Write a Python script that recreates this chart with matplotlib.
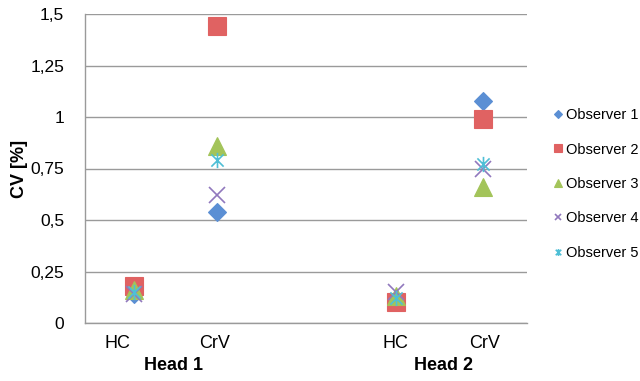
import numpy as np
import matplotlib
matplotlib.use('Agg')
import matplotlib.pyplot as plt
from matplotlib.path import Path

plt.rcParams['font.family'] = ['Liberation Sans', 'DejaVu Sans']

# 数据: 各观察者在四个分类上的 CV 值
categories = ['HC', 'CrV', 'HC', 'CrV']
groups = ['Head 1', 'Head 2']
observers = ['Observer 1', 'Observer 2', 'Observer 3', 'Observer 4', 'Observer 5']
obs1 = [0.14, 0.54, 0.11, 1.08]
obs2 = [0.18, 1.44, 0.10, 0.99]
obs3 = [0.16, 0.86, 0.13, 0.66]
obs4 = [0.14, 0.62, 0.15, 0.75]
obs5 = [0.15, 0.79, 0.12, 0.77]
yticks = [0, 0.25, 0.5, 0.75, 1, 1.25, 1.5]
ytick_labels = ['0', '0,25', '0,5', '0,75', '1', '1,25', '1,5']

# 布局 (x 轴以像素为单位)
point_x = [49, 132, 311, 398]
label_x = [32, 130, 310, 400]
group_x = [88, 358]

star = Path([(-1, -1), (1, 1), (-1, 1), (1, -1), (0, -1.25), (0, 1.25)],
            [Path.MOVETO, Path.LINETO, Path.MOVETO, Path.LINETO, Path.MOVETO, Path.LINETO])

styles = [
    dict(marker='D', color='#5b8fd4', ms=9.5, filled=True),
    dict(marker='s', color='#e06262', ms=13.5, filled=True),
    dict(marker='^', color='#a3c45a', ms=13, filled=True),
    dict(marker='x', color='#9178bd', ms=11, filled=False),
    dict(marker=star, color='#4fbfd6', ms=11, filled=False),
]

fig = plt.figure(figsize=(6.4, 3.81), dpi=100)
ax = fig.add_axes([85 / 640, 1 - 323 / 381, 442 / 640, 309 / 381])

for name, vals, st in zip(observers, [obs1, obs2, obs3, obs4, obs5], styles):
    if st['filled']:
        ax.plot(point_x, vals, linestyle='none', marker=st['marker'], ms=st['ms'],
                mfc=st['color'], mec=st['color'], mew=0.8, label=name, clip_on=False)
    else:
        ax.plot(point_x, vals, linestyle='none', marker=st['marker'], ms=st['ms'],
                mfc='none', mec=st['color'], mew=1.2, label=name, clip_on=False)

ax.set_xlim(0, 442)
ax.set_ylim(0, 1.5)
ax.set_yticks(yticks)
ax.set_yticklabels(ytick_labels, fontsize=12.5)
ax.set_xticks([])
ax.grid(axis='y', color='#9a9a9a', linewidth=1)
ax.set_axisbelow(True)
for s in ['top', 'right']:
    ax.spines[s].set_visible(False)
for s in ['left', 'bottom']:
    ax.spines[s].set_color('#9a9a9a')
    ax.spines[s].set_linewidth(1)
ax.tick_params(axis='y', length=0, pad=15)
ax.set_ylabel('CV [%]', fontsize=13, fontweight='bold', labelpad=2)

for x, c in zip(label_x, categories):
    ax.text(x, -20 / 206, c, ha='center', va='center', fontsize=13,
            transform=ax.transData)
for x, g in zip(group_x, groups):
    ax.text(x, -43 / 206, g, ha='center', va='center', fontsize=13,
            fontweight='bold', transform=ax.transData)

leg = ax.legend(loc='center left', bbox_to_anchor=(546 / 640, 1 - 184 / 381),
                bbox_transform=fig.transFigure, frameon=False, fontsize=10.5,
                markerscale=0.45, handlelength=0.6, handletextpad=0.3,
                labelspacing=1.4, borderpad=0)

fig.savefig('out.png', dpi=100)
